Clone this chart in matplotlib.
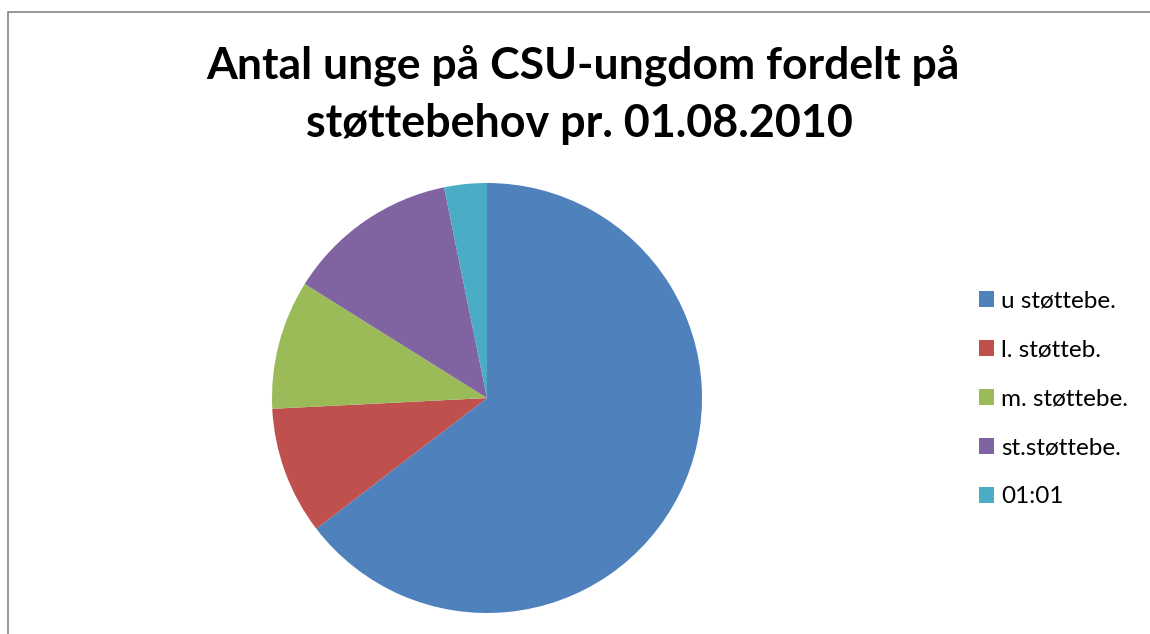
import matplotlib.pyplot as plt
from matplotlib.patches import Patch, Rectangle

# shares (%), clockwise from 12 o'clock
labels = ["u støttebe.", "l. støtteb.", "m. støttebe.", "st.støttebe.", "01:01"]
values = [64.6, 9.6, 9.7, 12.9, 3.2]
colors = ["#4F81BD", "#C0504D", "#9BBB59", "#8064A2", "#4BACC6"]

title_1 = "Antal unge på CSU-ungdom fordelt på"
title_2 = "støttebehov pr. 01.08.2010"

W, H = 1150, 634
fig = plt.figure(figsize=(W / 100, H / 100), dpi=100)

# frame of the chart area (only left and top edges visible)
fig.patches.append(Rectangle((8 / W, -0.1), 1.2, (H - 12) / H + 0.1,
                             transform=fig.transFigure, fill=False,
                             edgecolor="#868686", linewidth=1.2))

# pie: centre (487, 398) px, radius 215 px
cx, cy, r = 487, 398, 215
ax = fig.add_axes([(cx - r) / W, (H - cy - r) / H, 2 * r / W, 2 * r / H])
ax.pie(values, colors=colors, startangle=90, counterclock=False,
       radius=1.0, wedgeprops=dict(linewidth=0))
ax.set_xlim(-1, 1)
ax.set_ylim(-1, 1)
ax.axis("off")

fig.text(583 / W, (H - 79) / H, title_1, ha="center", va="baseline",
         fontsize=32, fontweight="bold", family="Lato")
fig.text(579 / W, (H - 137) / H, title_2, ha="center", va="baseline",
         fontsize=32.3, fontweight="bold", family="Lato")

handles = [Patch(facecolor=c, edgecolor="none") for c in colors]
fig.legend(handles, labels, loc="center left",
           bbox_to_anchor=(969 / W, (H - 399) / H), frameon=False,
           prop=dict(family="Lato", size=17.5), handlelength=0.62,
           handleheight=0.62, handletextpad=0.3, labelspacing=1.15,
           borderaxespad=0)

fig.savefig("out.png", dpi=100)
